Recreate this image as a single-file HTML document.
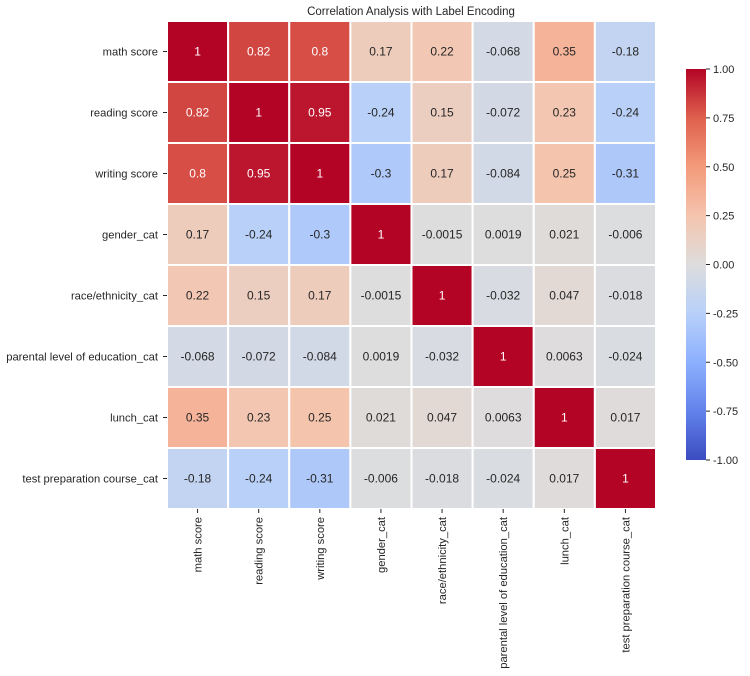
<!DOCTYPE html>
<html><head><meta charset="utf-8"><style>body{margin:0;background:#fff}svg{display:block;font-family:"Liberation Sans",sans-serif}</style></head>
<body>
<svg id="c" width="750" height="676">
<text x="411" y="15" text-anchor="middle" font-size="11.5" fill="#262626">Correlation Analysis with Label Encoding</text>
</svg>
<script>
const labels=["math score","reading score","writing score","gender_cat","race/ethnicity_cat","parental level of education_cat","lunch_cat","test preparation course_cat"];
const row0=[1,0.82,0.8,0.17,0.22,-0.068,0.35,-0.18];
const row1=[0.82,1,0.95,-0.24,0.15,-0.072,0.23,-0.24];
const row2=[0.8,0.95,1,-0.3,0.17,-0.084,0.25,-0.31];
const row3=[0.17,-0.24,-0.3,1,-0.0015,0.0019,0.021,-0.006];
const row4=[0.22,0.15,0.17,-0.0015,1,-0.032,0.047,-0.018];
const row5=[-0.068,-0.072,-0.084,0.0019,-0.032,1,0.0063,-0.024];
const row6=[0.35,0.23,0.25,0.021,0.047,0.0063,1,0.017];
const row7=[-0.18,-0.24,-0.31,-0.006,-0.018,-0.024,0.017,1];
const matrix=[row0,row1,row2,row3,row4,row5,row6,row7];
const cbTicks=[1,0.75,0.5,0.25,0,-0.25,-0.5,-0.75,-1];
const NS="http://www.w3.org/2000/svg",svg=document.getElementById('c');
const L=167,T=21,W=489,H=488,n=labels.length,cw=W/n,ch=H/n;
const cmap=[[59,76,192],[98,130,234],[141,176,254],[184,208,249],[221,221,221],[245,196,173],[244,154,123],[222,96,77],[180,4,38]];
function col(v){let t=(v+1)/2*8;t=Math.max(0,Math.min(8,t));let i=Math.min(7,Math.floor(t)),f=t-i;const a=cmap[i],b=cmap[i+1];return a.map((x,k)=>Math.round(x+(b[k]-x)*f));}
function mk(tag,at,txt){const e=document.createElementNS(NS,tag);for(const k in at)e.setAttribute(k,at[k]);if(txt!==undefined)e.textContent=txt;svg.appendChild(e);return e;}
const xS=i=>L+i*cw, yS=i=>T+i*ch;
matrix.forEach((r,i)=>r.forEach((v,j)=>{
 const c=col(v);
 const rc=mk('rect',{x:xS(j),y:yS(i),width:cw,height:ch,fill:`rgb(${c})`,stroke:'#fff','stroke-width':2});
 
 
 const lum=(0.2126*c[0]+0.7152*c[1]+0.0722*c[2])/255;
 const t=mk('text',{x:xS(j)+cw/2,y:yS(i)+ch/2+4,'text-anchor':'middle','font-size':12,fill:lum>0.45?'#262626':'#fff'},String(v));
 
 
}));
labels.forEach((lb,i)=>{
 const y=yS(i)+ch/2;
 mk('line',{x1:L-4,x2:L,y1:y,y2:y,stroke:'#262626'});
 const t=mk('text',{x:L-9,y:y+4,'text-anchor':'end','font-size':11.2,fill:'#262626'},lb);
 
 
 const x=xS(i)+cw/2;
 mk('line',{x1:x,x2:x,y1:T+H,y2:T+H+4,stroke:'#262626'});
 const t2=mk('text',{x:0,y:0,'text-anchor':'end','font-size':11.2,fill:'#262626',transform:`translate(${x+4},${T+H+8}) rotate(-90)`},lb);
 
 
});
const cbX=686,cbW=20,cbT=69,cbB=460;
const defs=mk('defs',{});const g=document.createElementNS(NS,'linearGradient');g.setAttribute('id','cg');g.setAttribute('x1',0);g.setAttribute('y1',1);g.setAttribute('x2',0);g.setAttribute('y2',0);defs.appendChild(g);
cmap.forEach((c,i)=>{const s=document.createElementNS(NS,'stop');s.setAttribute('offset',i/8);s.setAttribute('stop-color',`rgb(${c})`);g.appendChild(s);});
const cb=mk('rect',{x:cbX,y:cbT,width:cbW,height:cbB-cbT,fill:'url(#cg)'});


const cy=v=>cbB-(v+1)/2*(cbB-cbT);
cbTicks.forEach(v=>{
 const y=cy(v);
 mk('line',{x1:cbX+cbW,x2:cbX+cbW+4,y1:y,y2:y,stroke:'#262626'});
 const t=mk('text',{x:cbX+cbW+7,y:y+4,'font-size':11,fill:'#262626'},v.toFixed(2));
 
 
});
</script>
</body></html>
